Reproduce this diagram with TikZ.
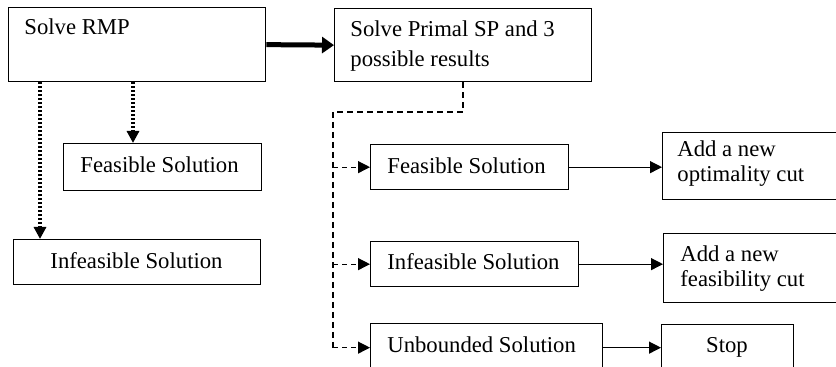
\documentclass[tikz,border=0pt]{standalone}
\usepackage{fontspec}
\setmainfont{Liberation Serif}
\usetikzlibrary{arrows.meta}
\begin{document}
\begin{tikzpicture}[x=0.5pt,y=-0.5pt,
  box/.style={draw, line width=0.65pt, inner sep=0pt, anchor=north west},
  lbl/.style={anchor=base west, inner sep=0pt, font=\fontsize{11.35}{15}\selectfont},
  lblc/.style={lbl, anchor=base},
  mainarrow/.style={line width=2.5pt, -{Triangle[length=6pt,width=8pt]}},
  dotarrow/.style={line width=1.8pt, dash pattern=on 1pt off 1pt, -{Triangle[length=6pt,width=6pt]}},
  dashline/.style={line width=0.6pt, dash pattern=on 3pt off 2pt},
  dasharrow/.style={line width=0.6pt, dash pattern=on 2.5pt off 2pt, -{Triangle[length=6pt,width=6pt]}},
  solidarrow/.style={line width=0.6pt, -{Triangle[length=6pt,width=6pt]}}
]
\path[use as bounding box, clip] (0,0) rectangle (836,367);
\fill[white] (0,0) rectangle (836,367);

% master problem and its two outcomes
\node[box, minimum width=128.5pt, minimum height=37pt] (rmp) at (8,7) {};
\node[lbl] (trmp) at (24,35) {Solve RMP};
\node[box, minimum width=99pt, minimum height=23.5pt] (feasL) at (63,143) {};
\node[lbl] (tfeasL) at (80,173) {Feasible Solution};
\node[box, minimum width=123.5pt, minimum height=22.5pt] (infL) at (13,239) {};
\node[lblc] (tinfL) at (136.5,269) {Infeasible Solution};

% subproblem and its three outcomes
\node[box, minimum width=128.5pt, minimum height=36.5pt] (primal) at (334,8) {};
\node[lbl, text width=125pt, align=flush left] (tprimal) at (350,37) {Solve Primal SP and 3\\possible results};
\node[box, minimum width=99pt, minimum height=22.5pt] (feasR) at (370,144) {};
\node[lbl] (tfeasR) at (387,174) {Feasible Solution};
\node[box, minimum width=104pt, minimum height=22.5pt] (infR) at (370,241) {};
\node[lbl] (tinfR) at (387,270) {Infeasible Solution};
\node[box, minimum width=116pt, minimum height=24pt] (unbR) at (370,323) {};
\node[lbl] (tunbR) at (387,353) {Unbounded Solution};

% actions
\node[box, minimum width=100pt, minimum height=33.5pt] (opt) at (662,132) {};
\node[lbl, text width=90pt, align=flush left, font=\fontsize{11.35}{12.5}\selectfont] (topt) at (677,157) {Add a new\\optimality cut};
\node[box, minimum width=100pt, minimum height=34.5pt] (fcut) at (663,233) {};
\node[lbl, text width=90pt, align=flush left, font=\fontsize{11.35}{12.5}\selectfont] (tfcut) at (680,262) {Add a new\\feasibility cut};
\node[box, minimum width=66pt, minimum height=24pt] (stop) at (661,324) {};
\node[lblc] (tstop) at (727,353) {Stop};

% connectors
\draw[mainarrow] (rmp.east) -- (primal.west);
\draw[dotarrow] ([xshift=62.5pt]rmp.south west) -- ([xshift=62.5pt]rmp.south west |- feasL.north);
\draw[dotarrow] ([xshift=16pt]rmp.south west) -- ([xshift=16pt]rmp.south west |- infL.north);

\coordinate (bend) at (333,112);
\draw[dashline, line width=0.9pt] (primal.south) |- (bend);
\draw[dashline] (bend) -- (bend |- unbR.west);
\draw[dasharrow] (bend |- feasR.west) -- (feasR.west);
\draw[dasharrow] (bend |- infR.west) -- (infR.west);
\draw[dasharrow] (bend |- unbR.west) -- (unbR.west);

\draw[solidarrow] (feasR.east) -- (feasR.east -| opt.west);
\draw[solidarrow] (infR.east) -- (infR.east -| fcut.west);
\draw[solidarrow] (unbR.east) -- (unbR.east -| stop.west);
\end{tikzpicture}
\end{document}
